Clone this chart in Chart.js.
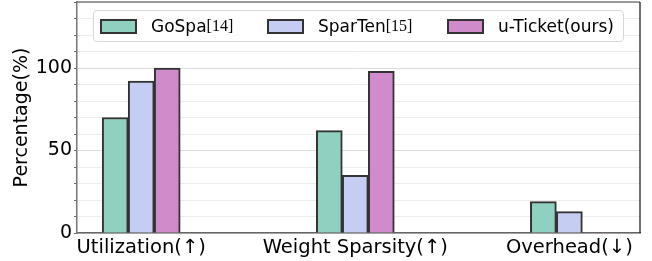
<!DOCTYPE html>
<html>
<head>
<meta charset="utf-8">
<script src="https://cdn.jsdelivr.net/npm/chart.js@4"></script>
<style>
  html, body { margin: 0; padding: 0; background: #fff; }
  #wrap { position: relative; width: 652px; height: 261px; }
  #c { position: absolute; left: 0; top: 0; }
  #legend { position: absolute; left: 93px; top: 10px; width: 529px; height: 30px;
            background: rgba(255,255,255,0.85); border: 1px solid #d8d8d8; border-radius: 4px;
            font-family: 'DejaVu Sans', sans-serif; font-size: 17px; color: #000; }
  .item { position: absolute; top: 0; height: 30px; display: flex; align-items: center; white-space: nowrap; }
  .patch { width: 33px; height: 11px; border: 2px solid #333; margin-right: 14px; }
  .ref { font-family: 'Liberation Serif', serif; font-size: 16px; }
</style>
</head>
<body>
<div id="wrap">
  <canvas id="c" width="652" height="261"></canvas>
  <div id="legend"></div>
</div>
<script>
const categories = ['Utilization(↑)', 'Weight Sparsity(↑)', 'Overhead(↓)'];
const seriesNames = ['GoSpa', 'SparTen', 'u-Ticket(ours)'];
const seriesRefs = ['[14]', '[15]', ''];
const goSpa = [70, 62, 19];
const sparTen = [92, 35, 13];
const uTicket = [100, 98, 0.3];
const colors = ['#8fd0c0', '#c5cdf2', '#cf8bca'];
const yTickLabels = [0, 50, 100];

const seriesValues = [goSpa, sparTen, uTicket];
const datasets = seriesValues.map((vals, s) => ({
  label: seriesNames[s] + seriesRefs[s],
  data: vals.map((v, i) => ({ x: i, y: v })),
  backgroundColor: colors[s],
  borderColor: '#333',
  borderWidth: 2,
  borderSkipped: 'bottom',
  barThickness: 26
}));

// legend (real text)
const legendPos = [6, 173, 353];
const lg = document.getElementById('legend');
seriesNames.forEach((n, s) => {
  const it = document.createElement('div');
  it.className = 'item';
  it.style.left = legendPos[s] + 'px';
  const p = document.createElement('span');
  p.className = 'patch';
  p.style.background = colors[s];
  it.appendChild(p);
  const t = document.createElement('span');
  t.textContent = n;
  it.appendChild(t);
  if (seriesRefs[s]) {
    const r = document.createElement('span');
    r.className = 'ref';
    r.textContent = seriesRefs[s];
    it.appendChild(r);
  }
  lg.appendChild(it);
});

const frame = {
  id: 'frame',
  afterDraw(chart) {
    const { ctx, chartArea: a } = chart;
    ctx.save();
    ctx.lineWidth = 1.2;
    ctx.strokeStyle = '#444';
    ctx.beginPath();
    ctx.moveTo(a.left, a.top); ctx.lineTo(a.right, a.top);
    ctx.stroke();
    ctx.strokeStyle = '#111';
    ctx.beginPath();
    ctx.moveTo(a.right, a.top); ctx.lineTo(a.right, a.bottom);
    ctx.stroke();
    ctx.restore();
  }
};

new Chart(document.getElementById('c'), {
  type: 'bar',
  data: { datasets },
  plugins: [frame],
  options: {
    responsive: false,
    animation: false,
    layout: { padding: { top: 2, right: 12, left: 0, bottom: 0 } },
    plugins: { legend: { display: false }, tooltip: { enabled: false } },
    scales: {
      x: {
        type: 'linear',
        min: -0.3, max: 2.33,
        offset: false,
        grid: { display: false, drawTicks: false },
        border: { display: true, color: '#666', width: 1.5 },
        afterBuildTicks: (sc) => { sc.ticks = categories.map((c, i) => ({ value: i })); },
        afterFit: (sc) => { sc.height = 28; sc.paddingLeft = 0; sc.paddingRight = 0; },
        ticks: {
          autoSkip: false, maxRotation: 0, padding: 3,
          color: '#000',
          font: { family: 'DejaVu Sans', size: 19.5 },
          callback: (v) => categories[v]
        }
      },
      y: {
        min: 0, max: 140,
        grid: {
          color: (c) => (c.tick && c.tick.value % 50 === 0) ? '#dcdcdc' : '#ececec',
          lineWidth: 1,
          drawTicks: true,
          tickLength: 3,
          tickColor: '#666'
        },
        border: { display: true, color: '#777', width: 1.5 },
        afterFit: (sc) => { sc.width = 77; sc.paddingTop = 0; sc.paddingBottom = 0; },
        title: {
          display: true, text: 'Percentage(%)', color: '#000',
          font: { family: 'DejaVu Sans', size: 19 },
          padding: { top: 11, bottom: 0 }
        },
        ticks: {
          stepSize: 10, autoSkip: false, padding: 2, color: '#000',
          font: { family: 'DejaVu Sans', size: 19 },
          callback: (v) => yTickLabels.includes(v) ? String(v) : ''
        }
      }
    }
  }
});
</script>
</body>
</html>
